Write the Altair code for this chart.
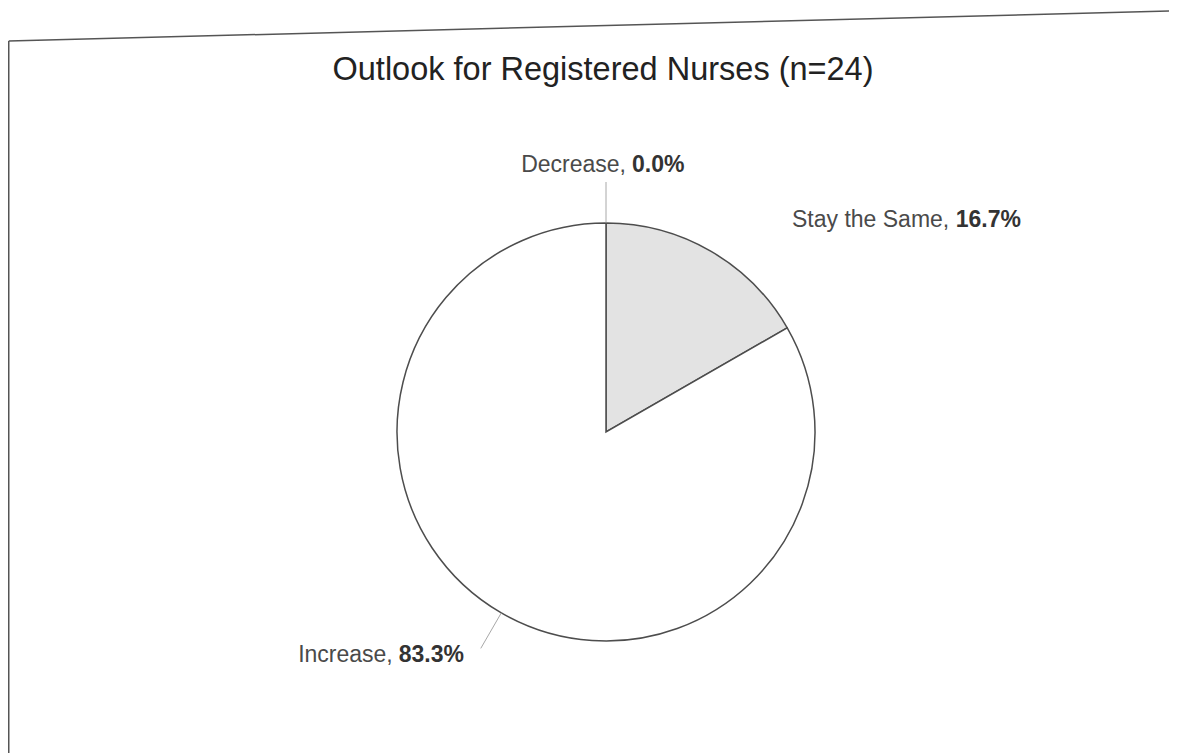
import altair as alt
import pandas as pd

title_text = "Outlook for Registered Nurses (n=24)"
categories = ["Decrease", "Stay the Same", "Increase"]
percents = [0.0, 16.7, 83.3]
name_labels = ["Decrease,", "Stay the Same,", "Increase,"]
value_labels = ["0.0%", "16.7%", "83.3%"]

df = pd.DataFrame({
    "category": categories,
    "pct": percents,
    "name_label": name_labels,
    "value_label": value_labels,
})

W, H = 1161, 745
CX, CY, R = 598, 424, 209
LABEL_R = 260
LEADER_R = 250

base = alt.Chart(df).transform_window(rank="row_number()")
theta = alt.Theta("pct:Q", stack=True)
order = alt.Order("rank:Q")

pie = base.mark_arc(outerRadius=R, stroke="#4d4d4d", strokeWidth=1.5).encode(
    theta=theta,
    order=order,
    color=alt.Color(
        "category:N",
        scale=alt.Scale(domain=categories, range=["#ffffff", "#e3e3e3", "#ffffff"]),
        legend=None,
    ),
    x=alt.value(CX),
    y=alt.value(CY),
)

leaders = (
    base.transform_joinaggregate(total="sum(pct)")
    .transform_window(cum="sum(pct)", sort=[alt.SortField("rank")], frame=[None, 0])
    .transform_calculate(mid="(datum.cum - datum.pct / 2) / datum.total * 2 * PI")
    .transform_calculate(
        lx1=f"{CX} + {R} * sin(datum.mid)",
        ly1=f"{CY} - {R} * cos(datum.mid)",
        lx2=f"{CX} + {LEADER_R} * sin(datum.mid)",
        ly2=f"{CY} - {LEADER_R} * cos(datum.mid)",
    )
    .transform_filter("datum.category != 'Stay the Same'")
    .mark_rule(color="#a8a8a8", strokeWidth=1)
    .encode(
        x=alt.X("lx1:Q", scale=None, axis=None),
        y=alt.Y("ly1:Q", scale=None, axis=None),
        x2="lx2:Q",
        y2="ly2:Q",
    )
)

# per-label offsets from the polar anchor: (name dx, value dx, dy)
offsets = {
    "Decrease": (20, 26, 0),
    "Stay the Same": (213, 219.5, 20),
    "Increase": (-83, -77, 5),
}

label_layers = []
for cat in categories:
    ndx, vdx, dy = offsets[cat]
    test = f"datum.category == '{cat}'"
    name_layer = base.mark_text(
        radius=LABEL_R, align="right", baseline="alphabetic", dx=ndx, dy=dy,
        fontSize=23, font="Liberation Sans", color="#4a4a4a",
    ).encode(
        theta=theta, order=order, detail="category:N",
        text=alt.condition(test, alt.Text("name_label:N"), alt.value("")),
        x=alt.value(CX), y=alt.value(CY),
    )
    value_layer = base.mark_text(
        radius=LABEL_R, align="left", baseline="alphabetic", dx=vdx, dy=dy,
        fontSize=23, font="Liberation Sans", fontWeight="bold", color="#333333",
    ).encode(
        theta=theta, order=order, detail="category:N",
        text=alt.condition(test, alt.Text("value_label:N"), alt.value("")),
        x=alt.value(CX), y=alt.value(CY),
    )
    label_layers += [name_layer, value_layer]

title = alt.Chart(pd.DataFrame({"t": [title_text]})).mark_text(
    fontSize=32.5, font="Liberation Sans", color="#222222", align="center", baseline="alphabetic"
).encode(text="t:N", x=alt.value(595), y=alt.value(72))

frame_df = pd.DataFrame({"a": [0]})
frame_top = alt.Chart(frame_df).mark_rule(color="#555555", strokeWidth=1.5).encode(
    x=alt.value(0.75), x2=alt.value(W), y=alt.value(33), y2=alt.value(3)
)
frame_left = alt.Chart(frame_df).mark_rule(color="#555555", strokeWidth=1.5).encode(
    x=alt.value(0.75), x2=alt.value(0.75), y=alt.value(33), y2=alt.value(H)
)

chart = alt.layer(
    frame_top, frame_left, pie, leaders, *label_layers, title
).properties(
    width=W, height=H, autosize="none", padding=0, background="white"
).configure_view(strokeWidth=0)

chart.save("out.html", embed_options={"renderer": "svg", "actions": False})
